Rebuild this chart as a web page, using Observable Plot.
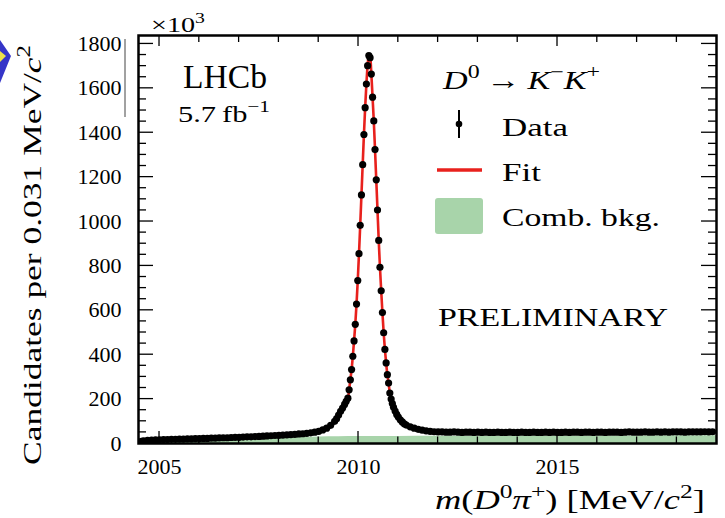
<!DOCTYPE html>
<html><head><meta charset="utf-8">
<script src="https://cdn.jsdelivr.net/npm/d3@7"></script>
<script src="https://cdn.jsdelivr.net/npm/@observablehq/plot@0.6"></script>
<style>
body{margin:0;background:#fff;}
#chart{position:relative;width:725px;height:518px;}
</style></head><body><div id="chart"></div>
<script>
// ---------- data ----------
const tailLeftMass = [2004.50,2004.55,2004.60,2004.70,2004.80,2004.90,2005.00,2005.10,2005.20,2005.30,2005.40,2005.50,2005.60,2005.70,2005.80,2005.90,2006.00,2006.10,2006.20,2006.30,2006.40,2006.50,2006.60,2006.70,2006.80,2006.90,2007.00,2007.10,2007.20,2007.30,2007.40,2007.50,2007.60,2007.70,2007.80,2007.90,2008.00,2008.10,2008.20,2008.30,2008.40,2008.50,2008.60,2008.70,2008.80,2008.90,2009.00,2009.10,2009.20,2009.30,2009.40,2009.45,2009.50,2009.55,2009.60,2009.65,2009.69];
const tailLeftCount = [6,10,12,14,15,16,17,18,18,19,19,20,20,21,21,22,22,23,23,24,24,25,26,26,27,28,28,29,30,30,31,32,33,34,35,36,37,38,39,40,41,43,44,46,48,51,55,61,69,82,100,112,128,145,160,176,190];
const peakMass = [2009.733,2009.764,2009.795,2009.826,2009.857,2009.888,2009.919,2009.950,2009.981,2010.012,2010.043,2010.074,2010.105,2010.136,2010.167,2010.198,2010.229,2010.260,2010.291,2010.322,2010.353,2010.384,2010.415,2010.446,2010.477,2010.508,2010.539,2010.570,2010.601,2010.632,2010.663,2010.694,2010.725,2010.756,2010.787];
const peakCount = [204,242,287,333,393,462,537,628,734,855,983,1120,1256,1392,1513,1619,1702,1748,1738,1664,1560,1453,1324,1188,1052,915,794,688,590,499,424,363,310,272,227];
const tailRightMass = [2010.82,2010.85,2010.88,2010.92,2010.96,2011.00,2011.05,2011.10,2011.15,2011.20,2011.30,2011.40,2011.50,2011.60,2011.70,2011.80,2011.90,2012.00,
 2012.1,2012.2,2012.3,2012.4,2012.5,2012.6,2012.7,2012.8,2012.9,2013.0,
 2013.1,2013.2,2013.3,2013.4,2013.5,2013.6,2013.7,2013.8,2013.9,2014.0,
 2014.1,2014.2,2014.3,2014.4,2014.5,2014.6,2014.7,2014.8,2014.9,2015.0,
 2015.1,2015.2,2015.3,2015.4,2015.5,2015.6,2015.7,2015.8,2015.9,2016.0,
 2016.1,2016.2,2016.3,2016.4,2016.5,2016.6,2016.7,2016.8,2016.9,2017.0,
 2017.1,2017.2,2017.3,2017.4,2017.5,2017.6,2017.7,2017.8,2017.9,2018.0,
 2018.1,2018.2,2018.3,2018.4,2018.5,2018.6,2018.7,2018.8,2018.9];
const tailRightCount = [200,180,163,146,131,119,107,97,89,83,75,69,64,60,57,55,53,52,
 52,51,51,52,51,50,51,51,50,51,
 50,51,50,50,51,50,50,51,50,50,
 51,50,50,51,50,50,51,50,51,50,
 50,51,50,51,51,50,51,51,50,51,
 51,50,51,51,51,50,51,52,51,51,
 51,52,51,51,52,51,52,51,52,52,
 52,51,52,52,52,52,53,52,53];
const bkgMass = [2004.47,2004.6,2004.8,2005.0,2005.5,2006.0,2006.5,2007.0,2007.5,2008.0,2008.5,2009.0,2009.5,2010.0,2011.0,2012.0,2013.0,2014.0,2015.0,2016.0,2017.0,2018.0,2019.0];
const bkgCount = [0,6,10,12,15,18,20,22,24,26,27,29,30,31,32,33,33,34,34,34,34,35,35];

const xTicks = [2005, 2010, 2015];
const xMinorTicks = [2005,2006,2007,2008,2009,2010,2011,2012,2013,2014,2015,2016,2017,2018];
const yTicks = [0,200,400,600,800,1000,1200,1400,1600,1800];
const yMinorTicks = [50,100,150,200,250,300,350,400,450,500,550,600,650,700,750,800,850,900,950,1000,1050,1100,1150,1200,1250,1300,1350,1400,1450,1500,1550,1600,1650,1700,1750,1800];

// ---------- tables ----------
const dataMass = [...tailLeftMass, ...peakMass, ...tailRightMass];
const dataCount = [...tailLeftCount, ...peakCount, ...tailRightCount];
const data = dataMass.map((m, i) => ({m, n: dataCount[i]}));
const bkg = bkgMass.map((m, i) => ({m, n: bkgCount[i]}));

const GREEN = "#a8d4aa", RED = "#e8211d";
const FONT = "'Liberation Serif', 'DejaVu Serif', serif";
const xDomain = [2004.472, 2018.995], yDomain = [0, 1838];

const plot = Plot.plot({
  width: 725, height: 518,
  marginLeft: 138, marginRight: 9, marginTop: 35, marginBottom: 75,
  style: {fontFamily: FONT, color: "black", background: "white", overflow: "visible"},
  x: {domain: xDomain},
  y: {domain: yDomain},
  marks: [
    Plot.areaY(bkg, {x: "m", y: "n", fill: GREEN, curve: "monotone-x", clip: true}),
    Plot.line(data, {x: "m", y: "n", stroke: RED, strokeWidth: 2.6, curve: "catmull-rom", clip: true}),
    Plot.dot(data, {x: "m", y: "n", r: 3.6, fill: "black", stroke: "none", clip: true}),
    Plot.axisX({ticks: xTicks, tickSize: 0, tickPadding: 15, label: null, tickFormat: d => String(d)}),
    Plot.axisY({ticks: yTicks, tickSize: 0, tickPadding: 17, label: null, tickFormat: d => String(d)}),
    Plot.frame({stroke: "black", strokeWidth: 2.5})
  ]
});
document.getElementById("chart").appendChild(plot);

const svg = d3.select(plot);
// tick-label size: every text the axes produced
svg.selectAll("text").attr("font-size", 22).attr("font-family", FONT).style("font-size", "22px");

// ---------- inward ticks through the plot's own scales ----------
const sx = plot.scale("x"), sy = plot.scale("y");
const X = v => sx.apply(v), Y = v => sy.apply(v);
const gt = svg.append("g").attr("stroke", "black").attr("stroke-width", 1.3);
const xl = X(xDomain[0]), xr = X(xDomain[1]), yb = Y(yDomain[0]), ytp = Y(yDomain[1]);
for (const m of xMinorTicks) {
  const major = xTicks.includes(m);
  gt.append("line").attr("x1", X(m)).attr("x2", X(m)).attr("y1", yb).attr("y2", yb - (major ? 12 : 6.5));
  gt.append("line").attr("x1", X(m)).attr("x2", X(m)).attr("y1", ytp).attr("y2", ytp + (major ? 11 : 7));
}
for (const v of yMinorTicks) {
  const major = yTicks.includes(v);
  gt.append("line").attr("x1", xl).attr("x2", xl + (major ? 15 : 8)).attr("y1", Y(v)).attr("y2", Y(v));
  gt.append("line").attr("x1", xr).attr("x2", xr - (major ? 15 : 8)).attr("y1", Y(v)).attr("y2", Y(v));
}

// ---------- text helper ----------
function rich(parent, x, y, parts, {size, length = null, rotate = 0, anchor = "start"}) {
  const g = parent.append("g").attr("transform", `translate(${x},${y}) rotate(${rotate})`);
  const t = g.append("text").attr("font-family", FONT).attr("font-size", size)
    .attr("fill", "black").attr("text-anchor", anchor);
  if (length) t.attr("textLength", length).attr("lengthAdjust", "spacingAndGlyphs");
  let shift = 0;
  for (const p of parts) {
    const o = typeof p === "string" ? {t: p} : p;
    const ts = t.append("tspan").text(o.t);
    const target = o.s ? -0.42 * size : 0;
    if (target !== shift) { ts.attr("dy", target - shift); shift = target; }
    if (o.s) ts.attr("font-size", size * 0.7);
    if (o.i) ts.attr("font-style", "italic");
  }
  return t;
}

const ann = svg.append("g");
rich(ann, 151, 32, ["×10", {t: "3", s: 1}], {size: 22, length: 54});
rich(ann, 41, 465, ["Candidates per 0.031 MeV/", {t: "c", i: 1}, {t: "2", s: 1}], {size: 26, length: 420, rotate: -90});
rich(ann, 435, 509, [{t: "m", i: 1}, "(", {t: "D", i: 1}, {t: "0", s: 1}, {t: "π", i: 1}, {t: "+", s: 1}, ") [MeV/", {t: "c", i: 1}, {t: "2", s: 1}, "]"], {size: 27, length: 270});
rich(ann, 183, 88, ["LHCb"], {size: 34, length: 84});
rich(ann, 178, 122, ["5.7\u2009fb", {t: "\u22121", s: 1}], {size: 24, length: 92});
rich(ann, 443, 89, [{t: "D", i: 1}, {t: "0", s: 1}, "\u2009\u2192\u2009", {t: "K", i: 1}, {t: "\u2212", s: 1}, {t: "K", i: 1}, {t: "+", s: 1}], {size: 26, length: 157});
rich(ann, 502, 136, ["Data"], {size: 26, length: 66});
rich(ann, 502, 181, ["Fit"], {size: 26, length: 39});
rich(ann, 502, 226, ["Comb. bkg."], {size: 26, length: 158});
rich(ann, 438, 326, ["PRELIMINARY"], {size: 26, length: 230});

// legend symbols
ann.append("line").attr("x1", 459).attr("x2", 459).attr("y1", 110).attr("y2", 138).attr("stroke", "black").attr("stroke-width", 2);
ann.append("circle").attr("cx", 459).attr("cy", 124).attr("r", 3.3).attr("fill", "black");
ann.append("line").attr("x1", 437).attr("x2", 482).attr("y1", 170).attr("y2", 170).attr("stroke", RED).attr("stroke-width", 3.5);
ann.append("rect").attr("x", 435).attr("y", 198).attr("width", 48).attr("height", 36).attr("rx", 3).attr("fill", GREEN);

// slide decorations
ann.append("line").attr("x1", 125).attr("x2", 125).attr("y1", 39).attr("y2", 117).attr("stroke", "#444").attr("stroke-width", 1);
ann.append("polygon").attr("points", "0,40 11,56 0,83").attr("fill", "#3535c8");
ann.append("polygon").attr("points", "0,51 6,56 0,62").attr("fill", "#ece24a");
</script></body></html>
